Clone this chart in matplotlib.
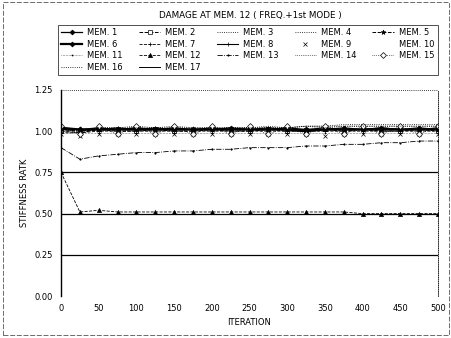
import matplotlib.pyplot as plt
from matplotlib.patches import Rectangle

iteration = list(range(0, 501, 25))

# stiffness ratio of each member, sampled every 25 iterations
mem1 = [1.02, 1.01, 1.02, 1.01, 1.02, 1.01, 1.02, 1.01, 1.01, 1.02, 1.01, 1.01, 1.02, 1.01, 1.01, 1.02, 1.01, 1.02, 1.01, 1.02, 1.01]
mem2 = [1.00, 0.99, 1.01, 1.00, 1.00, 1.01, 1.00, 1.00, 1.01, 1.00, 1.00, 1.01, 1.00, 1.00, 1.01, 1.00, 1.01, 1.00, 1.00, 1.01, 1.00]
mem3 = [1.01, 1.00, 1.02, 1.02, 1.03, 1.02, 1.03, 1.02, 1.02, 1.02, 1.02, 1.03, 1.02, 1.03, 1.03, 1.03, 1.03, 1.03, 1.03, 1.03, 1.03]
mem4 = [1.00, 1.00, 1.01, 1.01, 1.01, 1.01, 1.01, 1.01, 1.01, 1.02, 1.02, 1.02, 1.02, 1.03, 1.03, 1.04, 1.04, 1.04, 1.04, 1.04, 1.04]
mem5 = [1.01, 1.00, 1.01, 1.01, 1.02, 1.01, 1.01, 1.01, 1.01, 1.01, 1.01, 1.01, 1.01, 1.01, 1.01, 1.01, 1.01, 1.01, 1.01, 1.01, 1.01]
mem6 = [1.02, 1.01, 1.01, 1.01, 1.01, 1.01, 1.01, 1.01, 1.01, 1.01, 1.01, 1.01, 1.01, 1.00, 1.01, 1.01, 1.01, 1.01, 1.01, 1.01, 1.01]
mem7 = [0.99, 0.99, 1.00, 1.00, 1.00, 1.00, 1.00, 1.00, 1.00, 1.00, 1.00, 1.00, 1.00, 1.00, 1.00, 1.00, 1.00, 1.00, 1.00, 1.00, 1.00]
mem8 = [1.01, 1.01, 1.01, 1.02, 1.01, 1.02, 1.01, 1.01, 1.02, 1.01, 1.01, 1.02, 1.01, 1.01, 1.02, 1.01, 1.01, 1.02, 1.01, 1.01, 1.02]
mem9 = [0.98, 0.97, 0.98, 0.98, 0.98, 0.98, 0.98, 0.98, 0.98, 0.98, 0.98, 0.98, 0.98, 0.98, 0.97, 0.98, 0.98, 0.98, 0.98, 0.98, 0.98]
mem10 = [1.00, 1.00, 1.00, 1.00, 1.00, 1.00, 1.00, 1.00, 1.00, 1.00, 1.00, 1.00, 1.00, 1.00, 1.00, 1.00, 1.00, 1.00, 1.00, 1.00, 1.00]
mem11 = [0.99, 0.99, 0.99, 0.99, 0.99, 0.99, 0.99, 0.99, 0.99, 0.99, 0.99, 0.99, 0.99, 0.99, 0.99, 0.99, 0.99, 0.99, 0.99, 0.99, 0.99]
mem12 = [0.75, 0.51, 0.52, 0.51, 0.51, 0.51, 0.51, 0.51, 0.51, 0.51, 0.51, 0.51, 0.51, 0.51, 0.51, 0.51, 0.50, 0.50, 0.50, 0.50, 0.50]
mem13 = [0.90, 0.83, 0.85, 0.86, 0.87, 0.87, 0.88, 0.88, 0.89, 0.89, 0.90, 0.90, 0.90, 0.91, 0.91, 0.92, 0.92, 0.93, 0.93, 0.94, 0.94]
mem14 = [1.00, 1.01, 1.00, 1.01, 1.00, 1.01, 1.00, 1.01, 1.00, 1.01, 1.00, 1.01, 1.00, 1.01, 1.00, 1.01, 1.00, 1.01, 1.00, 1.01, 1.00]
mem15 = [1.03, 0.98, 1.03, 0.98, 1.03, 0.98, 1.03, 0.98, 1.03, 0.98, 1.03, 0.98, 1.03, 0.98, 1.03, 0.98, 1.03, 0.98, 1.03, 0.98, 1.03]
mem16 = [1.01, 1.00, 1.02, 1.02, 1.02, 1.02, 1.02, 1.02, 1.02, 1.02, 1.02, 1.02, 1.02, 1.03, 1.02, 1.03, 1.03, 1.03, 1.03, 1.03, 1.03]
mem17 = [1.01, 1.01, 1.01, 1.01, 1.01, 1.01, 1.01, 1.01, 1.01, 1.01, 1.01, 1.01, 1.01, 1.01, 1.01, 1.01, 1.01, 1.01, 1.01, 1.01, 1.01]

members = [mem1, mem2, mem3, mem4, mem5, mem6, mem7, mem8, mem9, mem10,
           mem11, mem12, mem13, mem14, mem15, mem16, mem17]
labels = ["MEM. %d" % (i + 1) for i in range(17)]

# (linestyle, linewidth, marker, markersize, markerfacecolor)
styles = [
    ("-", 0.9, "D", 2.5, "black"),
    ("--", 0.7, "s", 2.5, "white"),
    (":", 0.6, "", 0, "none"),
    (":", 0.6, "", 0, "none"),
    ("--", 0.7, "*", 3.5, "black"),
    ("-", 1.6, "D", 2.5, "black"),
    ("--", 0.6, "+", 3, "black"),
    ("-", 0.8, "|", 3, "black"),
    ("none", 0.6, "x", 2.5, "black"),
    ("none", 0.6, "", 0, "none"),
    (":", 0.4, ".", 1.5, "black"),
    ("--", 0.6, "^", 3, "black"),
    ("-.", 0.6, ".", 2, "black"),
    (":", 0.5, "", 0, "none"),
    (":", 0.5, "D", 3, "white"),
    (":", 0.6, "", 0, "none"),
    ("-", 0.7, "", 0, "none"),
]

plt.rcParams["font.family"] = "DejaVu Sans"
fig = plt.figure(figsize=(4.52, 3.38), dpi=100)
ax = fig.add_axes([0.135, 0.124, 0.834, 0.61])

handles = []
for vals, lab, (ls, lw, mk, ms, mfc) in zip(members, labels, styles):
    h, = ax.plot(iteration, vals, linestyle=ls, linewidth=lw, marker=mk,
                 markersize=ms, markerfacecolor=mfc, markeredgecolor="black",
                 markeredgewidth=0.5, color="black", label=lab)
    handles.append(h)

for yv in [0.25, 0.5, 0.75]:
    ax.axhline(yv, color="black", linewidth=0.9, zorder=0)
ax.axhline(1.25, color="black", linewidth=0.6, linestyle=(0, (1, 1.5)), zorder=0)

ax.set_xlim(0, 500)
ax.set_ylim(0, 1.25)
ax.set_xticks(range(0, 501, 50))
ax.set_yticks([0, 0.25, 0.5, 0.75, 1.0, 1.25])
ax.set_yticklabels(["0.00", "0.25", "0.50", "0.75", "1.00", "1.25"])
ax.tick_params(labelsize=6, length=0, pad=6)
for s in ["top", "bottom"]:
    ax.spines[s].set_visible(False)
ax.spines["left"].set_linewidth(1.0)
ax.spines["right"].set_linestyle((0, (1, 1.5)))
ax.spines["right"].set_linewidth(0.6)
ax.set_xlabel("ITERATION", fontsize=6, labelpad=3)
ax.set_ylabel("STIFFNESS RATK", fontsize=6, labelpad=4)

fig.text(0.555, 0.955, "DAMAGE AT MEM. 12 ( FREQ.+1st MODE )", ha="center",
         va="center", fontsize=6.3)

# legend fills column by column; reorder so members read across the rows
ncol = 5
order = [i for c in range(ncol) for i in range(c, len(handles), ncol)]
leg = fig.legend(handles=[handles[i] for i in order], ncol=ncol, loc="upper left",
                 bbox_to_anchor=(0.128, 0.755, 0.84, 0.17), mode="expand",
                 fontsize=6, frameon=True, fancybox=False, edgecolor="black",
                 handlelength=2.6, handletextpad=0.6, borderpad=0.35,
                 labelspacing=0.3, columnspacing=0.8, borderaxespad=0)
leg.get_frame().set_linewidth(0.6)

fig.patches.append(Rectangle((0.006, 0.008), 0.988, 0.985, transform=fig.transFigure,
                             fill=False, edgecolor="#555555", linewidth=0.6,
                             linestyle=(0, (6, 2))))

fig.savefig("out.png", dpi=100)
